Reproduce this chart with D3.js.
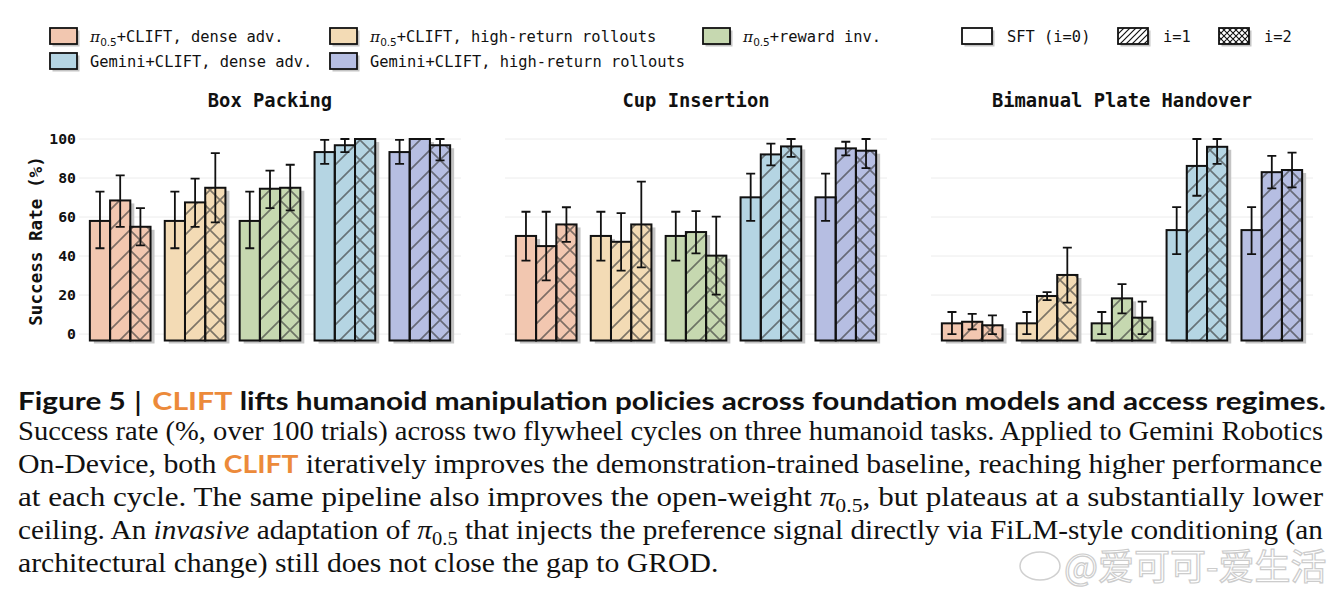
<!DOCTYPE html>
<html>
<head>
<meta charset="utf-8">
<script src="https://cdn.jsdelivr.net/npm/d3@7"></script>
<style>
  body { margin: 0; background: #fff; }
  svg { display: block; }
</style>
</head>
<body>
<script>
// ---- data (success rate %, with error bar low/high) ----
var tasks   = ['Box Packing', 'Cup Insertion', 'Bimanual Plate Handover']
var methods = ['π0.5+CLIFT, dense adv.', 'π0.5+CLIFT, high-return rollouts', 'π0.5+reward inv.',
               'Gemini+CLIFT, dense adv.', 'Gemini+CLIFT, high-return rollouts']
var cycles  = ['SFT (i=0)', 'i=1', 'i=2']
var yTicks  = [0, 20, 40, 60, 80, 100]

var boxMean = [[58, 68.5, 55], [58, 67.5, 75], [58, 74.5, 75], [93.3, 96.8, 100], [93.3, 100, 96.8]]
var boxLo   = [[44, 55, 45.5], [44, 55, 57.3], [44, 64.6, 63.4], [87.2, 93.3, 100], [87.2, 100, 89]]
var boxHi   = [[73, 81.4, 64.6], [73, 79.7, 92.8], [73, 83.8, 86.8], [99.6, 100, 100], [99.6, 100, 100]]

var cupMean = [[50.3, 45.1, 56.2], [50.3, 47.3, 56.2], [50.3, 52.3, 40.2], [70.1, 92.1, 96.2], [70.1, 95.2, 94]]
var cupLo   = [[37.6, 27.5, 47.3], [37.6, 32.5, 34.2], [37.6, 41.4, 20.2], [58, 86.5, 90.8], [58, 91.6, 85.1]]
var cupHi   = [[62.7, 62.7, 65], [62.7, 62, 78.1], [62.7, 63, 60.2], [82.2, 97.6, 100], [82.2, 98.6, 100]]

var plateMean = [[5.5, 6.3, 4.5], [5.5, 19.5, 30.3], [5.5, 18.3, 8.4], [53.3, 86.2, 96], [53.3, 83, 84.1]]
var plateLo   = [[0, 2.4, 0], [0, 17.4, 16.1], [0, 10.6, 0], [41, 70.9, 87.2], [41, 74.7, 75.2]]
var plateHi   = [[11.3, 10.3, 9.6], [11.3, 21.5, 44.3], [11.3, 25.6, 16.6], [65.1, 100, 100], [65.1, 91.4, 93]]

var panels = [
  {title: tasks[0], mean: boxMean, lo: boxLo, hi: boxHi},
  {title: tasks[1], mean: cupMean, lo: cupLo, hi: cupHi},
  {title: tasks[2], mean: plateMean, lo: plateLo, hi: plateHi}
]

var colors  = ['#F2C7B0', '#F3DBB5', '#C6D8B0', '#B5D5E3', '#B6BEE2']
var hatches = [null, 'url(#h1)', 'url(#h2)']
var orange  = '#EC8A3A'
var mono = '"DejaVu Sans Mono", monospace'

var W = 1344, H = 590
var svg = d3.select('body').append('svg').attr('width', W).attr('height', H)

// ---- hatch patterns ----
var defs = svg.append('defs')
function hatch(id, size, stroke, sw, cross){
  var p = defs.append('pattern').attr('id', id).attr('patternUnits', 'userSpaceOnUse')
    .attr('width', size).attr('height', size)
  var s = size
  var d = 'M0,' + s + 'L' + s + ',0M-2,2L2,-2M' + (s - 2) + ',' + (s + 2) + 'L' + (s + 2) + ',' + (s - 2)
  if (cross) d += 'M0,0L' + s + ',' + s + 'M-2,' + (s - 2) + 'L2,' + (s + 2) + 'M' + (s - 2) + ',-2L' + (s + 2) + ',2'
  p.append('path').attr('d', d).style('stroke', stroke).style('stroke-width', sw).style('fill', 'none')
}
hatch('h1', 20, 'rgba(55,55,55,0.62)', 1.7, false)
hatch('h2', 20, 'rgba(55,55,55,0.62)', 1.7, true)
hatch('lh1', 6, '#111', 1.2, false)
hatch('lh2', 6, '#111', 1.1, true)

// ---- panels ----
var barW = 0.27
panels.forEach(function(p, pi){
  var left = 79 + pi * 426
  var x = d3.scaleLinear().domain([-0.55, 4.55]).range([left, left + 382])
  var y = d3.scaleLinear().domain([-3.3, 100]).range([340.5, 139])
  var g = svg.append('g')

  g.append('g').selectAll('line').data(yTicks).join('line')
    .attr('x1', x(-0.55)).attr('x2', x(4.55))
    .attr('y1', function(d){ return y(d) }).attr('y2', function(d){ return y(d) })
    .style('stroke', '#ececec').style('stroke-width', 1)

  if (pi === 0){
    g.append('g').selectAll('text').data(yTicks).join('text')
      .attr('x', 76).attr('y', function(d){ return y(d) })
      .attr('dy', '0.36em').attr('text-anchor', 'end')
      .style('font-family', mono).style('font-weight', 'bold').style('font-size', '14.8px')
      .style('fill', '#111')
      .text(function(d){ return d })
    g.append('text').attr('transform', 'translate(36,241) rotate(-90)')
      .attr('text-anchor', 'middle').attr('dy', '0.36em')
      .style('font-family', mono).style('font-weight', 'bold').style('font-size', '17.6px')
      .style('fill', '#111').text('Success Rate (%)')
  }

  g.append('text').attr('x', x(2)).attr('y', 107).attr('text-anchor', 'middle')
    .style('font-family', mono).style('font-weight', 'bold').style('font-size', '18.8px')
    .style('fill', '#111').text(p.title)

  var bars = []
  p.mean.forEach(function(row, m){
    row.forEach(function(v, c){
      bars.push({m: m, c: c, v: v, lo: p.lo[m][c], hi: p.hi[m][c], cx: m + (c - 1) * barW})
    })
  })

  // shadows
  g.append('g').selectAll('rect').data(bars).join('rect')
    .attr('x', function(d){ return x(d.cx - barW / 2) + 4 })
    .attr('y', function(d){ return y(d.v) + 3 })
    .attr('width', x(barW) - x(0))
    .attr('height', function(d){ return y(-3.3) - y(d.v) })
    .style('fill', '#c4c4c4')

  g.append('g').selectAll('rect').data(bars).join('rect')
    .attr('x', function(d){ return x(d.cx - barW / 2) })
    .attr('y', function(d){ return y(d.v) })
    .attr('width', x(barW) - x(0))
    .attr('height', function(d){ return y(-3.3) - y(d.v) })
    .style('fill', function(d){ return colors[d.m] })

  g.append('g').selectAll('rect').data(bars.filter(function(d){ return d.c > 0 })).join('rect')
    .attr('x', function(d){ return x(d.cx - barW / 2) })
    .attr('y', function(d){ return y(d.v) })
    .attr('width', x(barW) - x(0))
    .attr('height', function(d){ return y(-3.3) - y(d.v) })
    .style('fill', function(d){ return hatches[d.c] })

  g.append('g').selectAll('rect').data(bars).join('rect')
    .attr('x', function(d){ return x(d.cx - barW / 2) })
    .attr('y', function(d){ return y(d.v) })
    .attr('width', x(barW) - x(0))
    .attr('height', function(d){ return y(-3.3) - y(d.v) })
    .style('fill', 'none').style('stroke', '#111').style('stroke-width', 2)

  // error bars
  g.append('g').selectAll('path').data(bars.filter(function(d){ return d.hi > d.lo })).join('path')
    .attr('d', function(d){
      var cx = x(d.cx), t = y(d.hi), b = y(d.lo)
      return 'M' + cx + ',' + t + 'V' + b + 'M' + (cx - 4.5) + ',' + t + 'H' + (cx + 4.5) +
             'M' + (cx - 4.5) + ',' + b + 'H' + (cx + 4.5)
    })
    .style('stroke', '#111').style('stroke-width', 1.8).style('fill', 'none')
})

// ---- legend ----
function piLabel(sel, rest, size, sub){
  sel.append('tspan').style('font-family', '"DejaVu Serif", serif').style('font-style', 'italic').text('π')
  sel.append('tspan').attr('dy', sub * 0.3).style('font-family', '"DejaVu Sans", sans-serif')
    .style('font-size', (size * 0.68) + 'px').text('0.5')
  sel.append('tspan').attr('dy', -sub * 0.3).text(rest)
}
var legPos = [[50, 28], [330, 28], [703, 28], [50, 53], [330, 53]]
var leg = svg.append('g')
methods.forEach(function(m, i){
  var lx = legPos[i][0], ly = legPos[i][1]
  leg.append('rect').attr('x', lx + 2.5).attr('y', ly + 2.5).attr('width', 27).attr('height', 16).style('fill', '#c4c4c4')
  leg.append('rect').attr('x', lx).attr('y', ly).attr('width', 27).attr('height', 16)
    .style('fill', colors[i]).style('stroke', '#111').style('stroke-width', 1.8)
  var t = leg.append('text').attr('x', lx + 40).attr('y', ly + 13.5)
    .style('font-family', mono).style('font-size', '15.4px').style('fill', '#111')
  if (m.indexOf('π0.5') === 0) piLabel(t, m.slice(4), 15.4, 16)
  else t.text(m)
})
var cycPos = [962, 1118, 1219]
cycles.forEach(function(c, i){
  var lx = cycPos[i], ly = 28
  leg.append('rect').attr('x', lx + 2.5).attr('y', ly + 2.5).attr('width', 30).attr('height', 16).style('fill', '#c4c4c4')
  leg.append('rect').attr('x', lx).attr('y', ly).attr('width', 30).attr('height', 16).style('fill', '#fff')
  if (i > 0) leg.append('rect').attr('x', lx).attr('y', ly).attr('width', 30).attr('height', 16).style('fill', 'url(#lh' + i + ')')
  leg.append('rect').attr('x', lx).attr('y', ly).attr('width', 30).attr('height', 16)
    .style('fill', 'none').style('stroke', '#111').style('stroke-width', 1.8)
  leg.append('text').attr('x', lx + 45).attr('y', ly + 13.5)
    .style('font-family', mono).style('font-size', '15.4px').style('fill', '#111').text(c)
})

// ---- caption ----
var serif = '"Liberation Serif", "Times New Roman", serif'
var sans = 'Lato, "Open Sans", sans-serif'
var capLines = [
  [{t: 'Figure 5 ', s: 'b'}, {t: '| ', s: 'bar'}, {t: 'CLIFT', s: 'o'}, {t: ' lifts humanoid manipulation policies across foundation models and access regimes.', s: 'b'}],
  [{t: 'Success rate (%, over 100 trials) across two flywheel cycles on three humanoid tasks. Applied to Gemini Robotics'}],
  [{t: 'On-Device, both '}, {t: 'CLIFT', s: 'o'}, {t: ' iteratively improves the demonstration-trained baseline, reaching higher performance'}],
  [{t: 'at each cycle. The same pipeline also improves the open-weight '}, {t: 'π', s: 'i'}, {t: '0.5', s: 'sub'}, {t: ', but plateaus at a substantially lower'}],
  [{t: 'ceiling. An '}, {t: 'invasive', s: 'i'}, {t: ' adaptation of '}, {t: 'π', s: 'i'}, {t: '0.5', s: 'sub'}, {t: ' that injects the preference signal directly via FiLM-style conditioning (an'}],
  [{t: 'architectural change) still does not close the gap to GROD.'}]
]
var capY = [410, 440, 473, 506, 539, 572]
var bodyK = []
capLines.forEach(function(line, li){
  var t = svg.append('text').attr('x', 0).attr('y', 0)
    .style('font-family', li === 0 ? sans : serif)
    .style('font-size', li === 0 ? '24.5px' : '26.4px').style('fill', '#111')
    .style('font-weight', li === 0 ? 'bold' : 'normal')
  var shifted = false
  line.forEach(function(seg){
    var sp = t.append('tspan').text(seg.t)
    if (shifted){ sp.attr('dy', -6); shifted = false }
    if (seg.s === 'o') sp.style('font-family', sans).style('font-weight', 'bold').style('fill', orange)
      .style('font-size', '25px')
    if (seg.s === 'bar') sp.style('font-weight', 'normal').style('font-family', '"DejaVu Sans", sans-serif')
    if (seg.s === 'i') sp.style('font-style', 'italic')
    if (seg.s === 'sub'){ sp.attr('dy', 6).style('font-size', '18.5px'); shifted = true }
  })
  // justify by stretching the line horizontally (the original face is wider than Times)
  var w = t.node().getComputedTextLength()
  var k
  if (li < capLines.length - 1){
    k = ((li === 0 ? 1326 : 1323) - 18) / w
    if (li > 0) bodyK.push(k)
  } else {
    k = d3.mean(bodyK)
  }
  t.attr('transform', 'translate(18,' + capY[li] + ') scale(' + k + ',1)')
})

// watermark
var wm = svg.append('g').style('opacity', 0.85)
wm.append('ellipse').attr('cx', 1040).attr('cy', 566).attr('rx', 20).attr('ry', 14)
  .style('fill', 'rgba(255,255,255,0.5)').style('stroke', '#c8c8c8').style('stroke-width', 1.5)
wm.append('text').attr('x', 1064).attr('y', 580)
  .style('font-family', '"Noto Sans CJK SC", sans-serif').style('font-size', '36px')
  .style('fill', 'rgba(255,255,255,0.55)').style('stroke', '#c4c4c4').style('stroke-width', 1.2)
  .text('@爱可可-爱生活')
</script>
</body>
</html>
